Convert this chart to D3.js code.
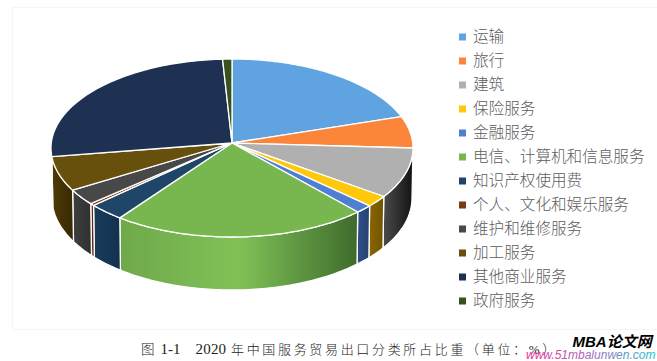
<!DOCTYPE html>
<html><head><meta charset="utf-8">
<script src="https://cdn.jsdelivr.net/npm/d3@7"></script>
<style>html,body{margin:0;padding:0;background:#fff}svg{display:block}</style>
</head><body><div id="c"></div>
<script>
const categories=["运输","旅行","建筑","保险服务","金融服务","电信、计算机和信息服务","知识产权使用费","个人、文化和娱乐服务","维护和维修服务","加工服务","其他商业服务","政府服务"];
const values=[19.25,5.75,9.17,2.08,1.53,22.86,3.22,0.39,2.89,6.31,25.72,0.83];
const topColors=["#5fa4e0","#fb863a","#b0b0b0","#ffc80a","#4f7fd3","#78b650","#1f4568","#7a3a10","#484848","#67500c","#1e3152","#38511f"];
const wallStops=[["#5b9bd5","#5b9bd5"],["#ed7d31","#ed7d31"],["#4c4c4c","#121212"],["#8a6700","#6f5300"],["#2f5089","#24406f"],["#6fa84a","#80c257","#3f6b2c"],["#1a3c5c","#13304e"],["#6b2e0c","#5a260a"],["#3f3f3f","#303030"],["#4f3b05","#372803"],["#1e3152","#1e3152"],["#38511f","#38511f"]];
const captionFig="图";
const captionNum="1-1";
const captionYear="2020";
const captionRest="年中国服务贸易出口分类所占比重（单位：%）";

const W=657,H=361;
const svg=d3.select("#c").append("svg").attr("width",W).attr("height",H);
const defs=svg.append("defs");

const apex={x:232,y:143};
const top_={cx:232,cy:148,rx:181,ry:89};
const bot={cx:232,cy:198,rx:180,ry:92};
const pt=(e,a)=>[e.cx+e.rx*Math.sin(a),e.cy-e.ry*Math.cos(a)];
const samples=(a,b)=>{const n=Math.max(2,Math.ceil((b-a)/0.02));return d3.range(n+1).map(i=>a+(b-a)*i/n);};
const line=d3.line();

const pie=d3.pie().sort(null).value(d=>d)(values);
svg.append("rect").attr("x",12.5).attr("y",7.5).attr("width",660).attr("height",322).attr("fill","none").attr("stroke","#f5f5f5");

const walls=svg.append("g");
pie.forEach((s,i)=>{
  const a=Math.max(s.startAngle,Math.PI/2),b=Math.min(s.endAngle,Math.PI*1.5);
  if(b<=a)return;
  const ss=samples(a,b);
  const up=ss.map(t=>pt(top_,t)),dn=ss.map(t=>pt(bot,t)).reverse();
  const xs=up.map(p=>p[0]).concat(dn.map(p=>p[0]));
  const id="w"+i;
  const g=defs.append("linearGradient").attr("id",id).attr("gradientUnits","userSpaceOnUse")
    .attr("x1",d3.min(xs)).attr("x2",d3.max(xs)).attr("y1",0).attr("y2",0);
  wallStops[i].forEach((c,k,arr)=>g.append("stop").attr("offset",k/(arr.length-1)).attr("stop-color",c));
  walls.append("path").attr("d",line(up.concat(dn))+"Z").attr("fill",`url(#${id})`)
    .attr("stroke","#fff").attr("stroke-width",1.3).attr("stroke-linejoin","round");
});

const faces=svg.append("g");
pie.forEach((s,i)=>{
  const pts=[[apex.x,apex.y]].concat(samples(s.startAngle,s.endAngle).map(t=>pt(top_,t)));
  faces.append("path").attr("d",line(pts)+"Z").attr("fill",topColors[i])
    .attr("stroke","#fff").attr("stroke-width",1.3).attr("stroke-linejoin","round");
});

const yL=d3.scalePoint().domain(categories).range([37,301]);
const leg=svg.append("g");
categories.forEach((c,i)=>{
  leg.append("rect").attr("x",459).attr("y",yL(c)-3.5).attr("width",7).attr("height",7).attr("fill",topColors[i]);
  leg.append("text").attr("x",473).attr("y",yL(c)+5.3).text(c)
    .attr("font-family","'Noto Sans CJK SC'").attr("font-size",15.6).attr("font-weight",300).attr("fill","#5c5c5c");
});

const serif="'Liberation Serif','Noto Sans CJK SC'";
const cap=(x,t,fs,ls)=>svg.append("text").attr("x",x).attr("y",353.5).text(t).attr("font-family",serif).attr("font-size",fs).attr("letter-spacing",ls).attr("font-weight",300).attr("fill","#222");
cap(141,captionFig,13.5,0);
cap(160.5,captionNum,15,0);
cap(195.5,captionYear,15,0.2);
cap(231,captionRest,13,2.67);

const wg=defs.append("linearGradient").attr("id","wm").attr("gradientUnits","userSpaceOnUse").attr("x1",526).attr("x2",655).attr("y1",0).attr("y2",0);
wg.append("stop").attr("offset",0).attr("stop-color","#e8309a");
wg.append("stop").attr("offset",0.55).attr("stop-color","#a070c0");
wg.append("stop").attr("offset",1).attr("stop-color","#20c0d0");
svg.append("text").attr("x",572.5).attr("y",347).text("MBA论文网").attr("font-family","'Liberation Sans','Noto Sans CJK SC'").attr("font-style","italic").attr("font-weight",700).attr("font-size",15).attr("fill","#000");
svg.append("text").attr("x",526).attr("y",358.5).text("www.51mbalunwen.com").attr("font-family","'Liberation Sans'").attr("font-style","italic").attr("font-size",12).attr("fill","url(#wm)");
</script></body></html>
